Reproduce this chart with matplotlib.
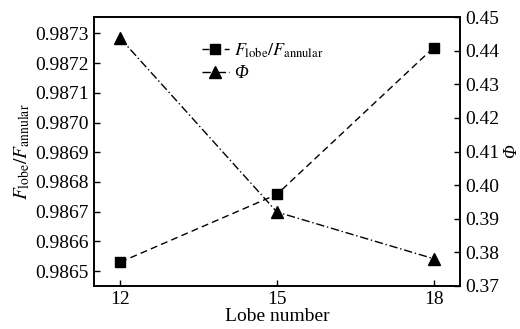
import matplotlib
matplotlib.use("Agg")
from matplotlib import pyplot as plt

# data
lobes = [12, 15, 18]
f_ratio = [0.98653, 0.986758, 0.987252]
phi = [0.4437, 0.392, 0.3781]

plt.rcParams["font.family"] = "Liberation Serif"
plt.rcParams["mathtext.fontset"] = "stix"

fig, ax = plt.subplots(figsize=(5.2, 3.29), dpi=100)
fig.subplots_adjust(left=0.181, right=0.884, top=0.948, bottom=0.131)
ax2 = ax.twinx()

l1, = ax.plot(lobes, f_ratio, color="black", linestyle=(0, (5, 3)), linewidth=1,
              marker="s", markersize=7, label=r"$F_{\rm lobe}/F_{\rm annular}$")
l2, = ax2.plot(lobes, phi, color="black", linestyle=(0, (6, 2, 1, 2)), linewidth=1,
               marker="^", markersize=9, label="Φ")

ax.set_xlim(11.5, 18.5)
ax.set_xticks(lobes)
ax.set_ylim(0.98645, 0.987355)
ax.set_yticks([0.9865, 0.9866, 0.9867, 0.9868, 0.9869, 0.9870, 0.9871, 0.9872, 0.9873])
ax.set_yticklabels(["%.4f" % v for v in ax.get_yticks()])
ax2.set_ylim(0.37, 0.45)
ax2.set_yticks([0.37, 0.38, 0.39, 0.40, 0.41, 0.42, 0.43, 0.44, 0.45])
ax2.set_yticklabels(["%.2f" % v for v in ax2.get_yticks()])

for a in (ax, ax2):
    a.tick_params(labelsize=14, direction="in", length=4, width=1, pad=4)
    for s in a.spines.values():
        s.set_linewidth(1.2)

ax.set_xlabel("Lobe number", fontsize=14, labelpad=0)
ax.set_ylabel(r"$F_{\rm lobe}/F_{\rm annular}$", fontsize=14, labelpad=2)
ax2.set_ylabel("Φ", fontsize=13, fontstyle="italic")
ax2.yaxis.set_label_coords(1.118, 0.5)

leg = ax.legend(handles=[l1, l2], loc="upper left", bbox_to_anchor=(0.25, 0.97),
                frameon=False, fontsize=13, handlelength=1.5, handletextpad=0.3,
                labelspacing=0.3)
leg.get_texts()[1].set_fontstyle("italic")

fig.savefig("out.png", dpi=100)
